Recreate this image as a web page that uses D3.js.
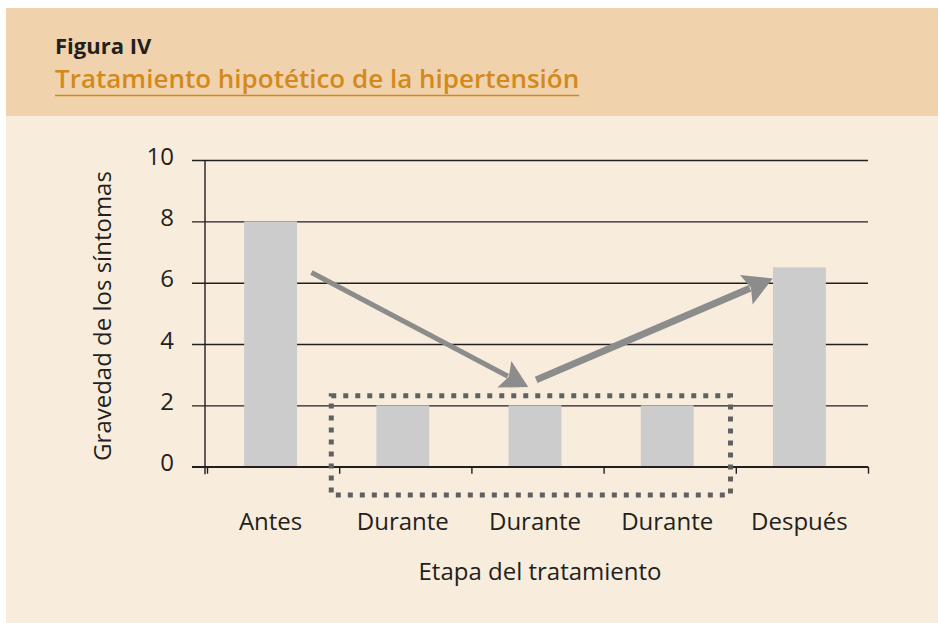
<!DOCTYPE html>
<html>
<head>
<meta charset="utf-8">
<script src="https://cdn.jsdelivr.net/npm/d3@7"></script>
<style>
  body { margin: 0; background: #ffffff; }
  svg { display: block; }
  .tick-label, .cat-label, .axis-title { font-family: "Open Sans", sans-serif; font-size: 24px; fill: #231f20; }
</style>
</head>
<body>
<div id="chart"></div>
<script>
// Chart data
var categories = ["Antes", "Durante", "Durante", "Durante", "Después"];
var values = [8, 2, 2, 2, 6.5];
var yTicks = [0, 2, 4, 6, 8, 10];

// Annotations, in (category position, value) units
var arrowDown = { x1: 0.79, y1: 6.33, x2: 2.43, y2: 2.6, w: 5, head: 30 };
var arrowUp = { x1: 2.49, y1: 2.83, x2: 4.28, y2: 6.14, w: 7, head: 32 };
var boxX = [0.94, 3.96];
var boxY = [2.31, -0.92];

var width = 938, height = 623;

var svg = d3.select("#chart").append("svg")
    .attr("width", width)
    .attr("height", height);

// Backgrounds
svg.append("rect")
    .attr("x", 6).attr("y", 8)
    .attr("width", width - 6).attr("height", height - 8)
    .attr("fill", "#f8ecdc");

svg.append("rect")
    .attr("x", 6).attr("y", 8)
    .attr("width", width - 6).attr("height", 108)
    .attr("fill", "#f0d2ac");

// Header
svg.append("text")
    .attr("x", 55).attr("y", 54)
    .attr("font-family", "'Open Sans', sans-serif")
    .attr("font-size", 22)
    .attr("font-weight", 700)
    .attr("fill", "#231f20")
    .text("Figura IV");

var title = svg.append("text")
    .attr("x", 55).attr("y", 88)
    .attr("font-family", "'Open Sans', sans-serif")
    .attr("font-size", 26)
    .attr("font-weight", 600)
    .attr("fill", "#d4891c")
    .text("Tratamiento hipotético de la hipertensión");

var tw = title.node().getComputedTextLength();
svg.append("line")
    .attr("x1", 55).attr("x2", 55 + tw)
    .attr("y1", 95.5).attr("y2", 95.5)
    .attr("stroke", "#d4891c")
    .attr("stroke-width", 1.5);

// Scales
var x0 = 207, x1 = 868;
var pos = d3.scaleLinear().domain([0, categories.length]).range([x0, x1]);
var band = (x1 - x0) / categories.length;
var y = d3.scaleLinear().domain([0, 10]).range([466.7, 160]);

var gridLeft = 192;

// Gridlines and y tick labels
var yAxis = d3.axisLeft(y)
    .tickValues(yTicks)
    .tickSize(-(x1 - gridLeft))
    .tickPadding(18)
    .tickFormat(d3.format("d"));

var gy = svg.append("g")
    .attr("transform", "translate(" + gridLeft + ",0)")
    .call(yAxis);
gy.select(".domain").remove();
gy.selectAll(".tick line")
    .attr("stroke", "#231f20")
    .attr("stroke-width", 1.4);
gy.selectAll(".tick text")
    .attr("class", "tick-label")
    .attr("dy", "0.17em");
gy.attr("font-family", null).attr("font-size", null);

// Y axis line
svg.append("line")
    .attr("x1", 205).attr("x2", 205)
    .attr("y1", y(10)).attr("y2", y(0) + 7.5)
    .attr("stroke", "#231f20")
    .attr("stroke-width", 1.4);

// X axis ticks at band edges
var xAxis = d3.axisBottom(pos)
    .tickValues(d3.range(categories.length + 1))
    .tickSize(7)
    .tickFormat("");
var gx = svg.append("g")
    .attr("transform", "translate(0," + y(0) + ")")
    .call(xAxis);
gx.select(".domain").remove();
gx.selectAll(".tick line")
    .attr("stroke", "#231f20")
    .attr("stroke-width", 1.4);

// Bars
var barW = band * 0.4;
var shift = -2.5;
svg.selectAll("rect.bar")
    .data(values)
    .enter()
    .append("rect")
    .attr("class", "bar")
    .attr("fill", "#cccccc")
    .attr("x", function (d, i) { return pos(i + 0.5) - barW / 2 + shift; })
    .attr("width", barW)
    .attr("y", function (d) { return y(d); })
    .attr("height", function (d) { return y(0) - y(d); });

// Redraw the zero line over the bars
svg.append("line")
    .attr("x1", gridLeft).attr("x2", x1)
    .attr("y1", y(0)).attr("y2", y(0))
    .attr("stroke", "#231f20")
    .attr("stroke-width", 1.4);

// Category labels
svg.selectAll("text.cat-label")
    .data(categories)
    .enter()
    .append("text")
    .attr("class", "cat-label")
    .attr("text-anchor", "middle")
    .attr("x", function (d, i) { return pos(i + 0.5) + shift; })
    .attr("y", 530)
    .text(function (d) { return d; });

// Axis titles
svg.append("text")
    .attr("class", "axis-title")
    .attr("text-anchor", "middle")
    .attr("x", 540)
    .attr("y", 580)
    .text("Etapa del tratamiento");

svg.append("text")
    .attr("class", "axis-title")
    .attr("text-anchor", "middle")
    .attr("transform", "translate(111," + 316 + ") rotate(-90)")
    .text("Gravedad de los síntomas");

// Dotted box
svg.append("rect")
    .attr("x", pos(boxX[0]))
    .attr("y", y(boxY[0]))
    .attr("width", pos(boxX[1]) - pos(boxX[0]))
    .attr("height", y(boxY[1]) - y(boxY[0]))
    .attr("fill", "none")
    .attr("stroke", "#616161")
    .attr("stroke-width", 5)
    .attr("stroke-dasharray", "5,7");

// Arrows
function drawArrow(a) {
    var sx = pos(a.x1), sy = y(a.y1), ex = pos(a.x2), ey = y(a.y2);
    var ang = Math.atan2(ey - sy, ex - sx);
    var len = a.head * 0.9;
    var bx = ex - len * Math.cos(ang), by = ey - len * Math.sin(ang);
    var nx = -Math.sin(ang), ny = Math.cos(ang);
    var hw = a.head / 2;
    svg.append("line")
        .attr("x1", sx).attr("y1", sy)
        .attr("x2", bx + 4 * Math.cos(ang)).attr("y2", by + 4 * Math.sin(ang))
        .attr("stroke", "#8c8c8c")
        .attr("stroke-width", a.w);
    svg.append("path")
        .attr("d", d3.line()([
            [ex, ey],
            [bx + nx * hw, by + ny * hw],
            [bx + 5 * Math.cos(ang), by + 5 * Math.sin(ang)],
            [bx - nx * hw, by - ny * hw]
        ]) + "Z")
        .attr("fill", "#8c8c8c");
}
drawArrow(arrowDown);
drawArrow(arrowUp);
</script>
</body>
</html>
